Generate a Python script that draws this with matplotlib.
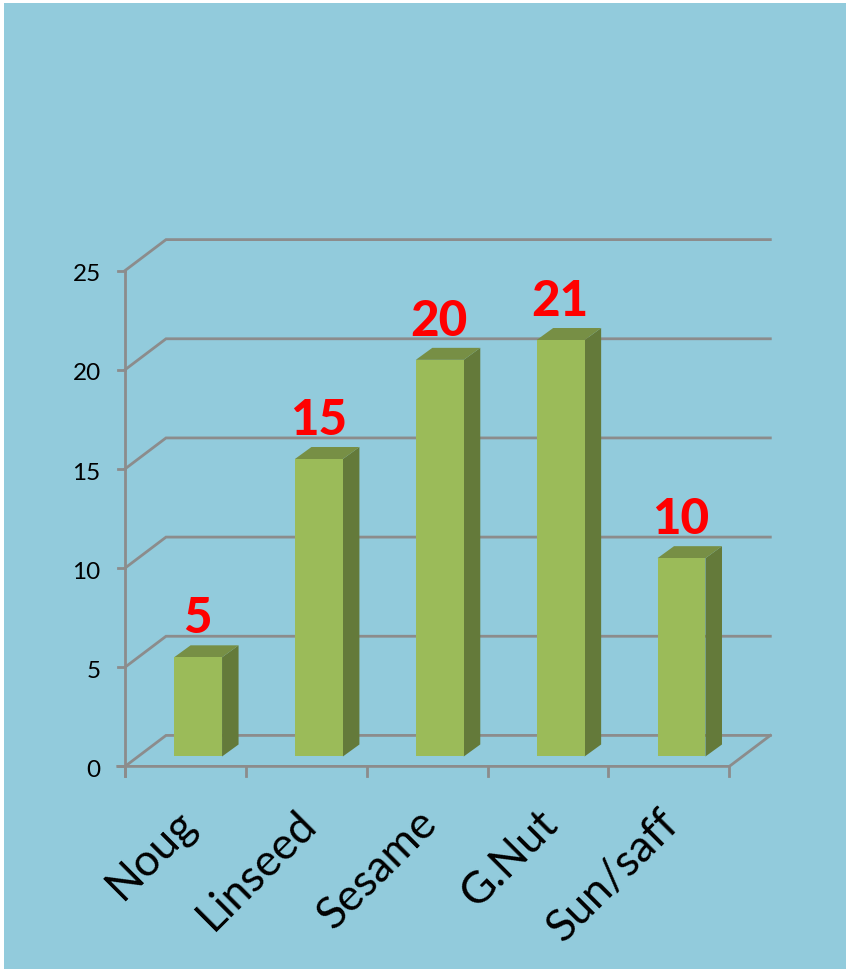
import matplotlib
matplotlib.use("Agg")
import matplotlib.pyplot as plt
from matplotlib.patches import Polygon, Rectangle

categories = ["Noug", "Linseed", "Sesame", "G.Nut", "Sun/saff"]
values = [5, 15, 20, 21, 10]
y_ticks = [0, 5, 10, 15, 20, 25]

W, H = 846, 969
BG = "#92CBDC"
GRID = "#8C8C8C"
FRONT = "#9BBB59"
TOP = "#778F45"
SIDE = "#647A3A"

plt.rcParams["font.family"] = ["Lato", "DejaVu Sans"]
fig = plt.figure(figsize=(W / 100, H / 100), dpi=100, facecolor="white")
fig.patches.append(Rectangle((4 / W, 1 - 968.5 / H), 842 / W, 965.5 / H, transform=fig.transFigure,
                             facecolor=BG, edgecolor="none", zorder=-5))

# axes box = front plane of the 3D chart, in reference pixels
left, right, top, bottom = 125.0, 729.3, 270.6, 766.4
ax = fig.add_axes([left / W, 1 - bottom / H, (right - left) / W, (bottom - top) / H])
ax.patch.set_alpha(0)
ax.set_xlim(0, len(categories))
ax.set_ylim(0, 25)
ax.axis("off")

DX, DY = 41 / 120.8, 31 / 19.84            # floor depth in data units
BAR_L, BAR_W = 0.406, 0.397
BAR_DX, BAR_DY = 16.5 / 120.8, 12 / 19.84  # bar depth
BASE = 0.5
n = len(categories)
lw = 2.0

for t in y_ticks:
    ax.plot([0, DX, n + DX], [t, t + DY, t + DY], color=GRID, lw=lw, clip_on=False,
            solid_joinstyle="miter", zorder=1)
    ax.plot([-0.06, 0], [t, t], color=GRID, lw=lw, clip_on=False, zorder=1)
ax.plot([0, 0], [-0.5, 25], color=GRID, lw=lw, clip_on=False, zorder=1.1)
ax.plot([-0.06, n, n + DX], [0, 0, DY], color=GRID, lw=lw, clip_on=False, zorder=1.1)
for i in range(n + 1):
    ax.plot([i, i], [-0.5, 0], color=GRID, lw=lw, clip_on=False, zorder=1.1)

for i, v in enumerate(values):
    x0, x1 = i + BAR_L, i + BAR_L + BAR_W
    y0, y1 = BASE, BASE + v
    ax.add_patch(Polygon([(x1, y0), (x1 + BAR_DX, y0 + BAR_DY), (x1 + BAR_DX, y1 + BAR_DY), (x1, y1)],
                         facecolor=SIDE, edgecolor="none", zorder=3, clip_on=False))
    ax.add_patch(Polygon([(x0, y1), (x1, y1), (x1 + BAR_DX, y1 + BAR_DY), (x0 + BAR_DX, y1 + BAR_DY)],
                         facecolor=TOP, edgecolor="none", zorder=3, clip_on=False))
    ax.add_patch(Rectangle((x0, y0), BAR_W, v, facecolor=FRONT, edgecolor="none", zorder=4, clip_on=False))
    ax.text(x0 + BAR_W / 2 - 0.005, y1 + 0.82, str(v), color="#FF0000", fontsize=35.5, fontweight="black",
            ha="center", va="bottom", zorder=5, clip_on=False)

for t in y_ticks:
    ax.annotate(str(t), (0, t), xytext=(-17.5, -3), textcoords="offset points", fontsize=17.5,
                color="black", ha="right", va="center", annotation_clip=False)

for i, c in enumerate(categories):
    ax.annotate(c, (i + 0.5, 0), xytext=(-8, -26), textcoords="offset points", fontsize=32,
                color="black", rotation=45, ha="right", va="top", rotation_mode="anchor",
                annotation_clip=False)

fig.savefig("out.png", dpi=100, facecolor="white")
